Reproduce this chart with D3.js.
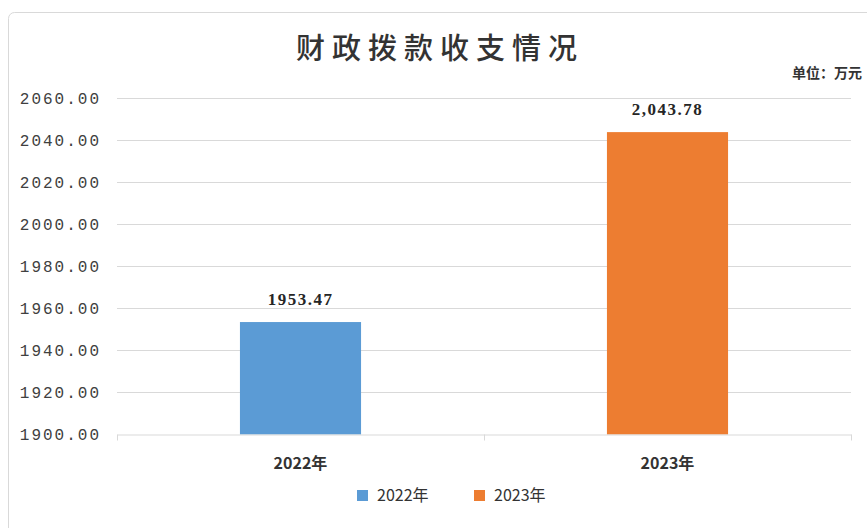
<!DOCTYPE html>
<html><head><meta charset="utf-8">
<script src="https://cdn.jsdelivr.net/npm/d3@7"></script>
<style>body{margin:0;background:#fff}svg{display:block}</style>
</head><body>
<script>
const categories = ["2022年", "2023年"];
const values = [1953.47, 2043.78];
const valueLabels = ["1953.47", "2,043.78"];
const colors = ["#5B9BD5", "#ED7D31"];
const yTicks = [1900, 1920, 1940, 1960, 1980, 2000, 2020, 2040, 2060];
const title = "财政拨款收支情况";
const unit = "单位：万元";

const W = 867, H = 528;
const svg = d3.select("body").append("svg").attr("width", W).attr("height", H);

svg.append("rect").attr("x", 8.5).attr("y", 12.5).attr("width", 870).attr("height", 530)
  .attr("rx", 6).attr("fill", "#fff").attr("stroke", "#d9d9d9");

const m = {left: 117, right: 851, top: 98, bottom: 434.5};
const x = d3.scaleBand().domain(categories).range([m.left, m.right]).paddingInner(0).paddingOuter(0);
const y = d3.scaleLinear().domain([1900, 2060]).range([m.bottom, m.top]);

// grid
svg.append("g").selectAll("line").data(yTicks.slice(1)).join("line")
  .attr("x1", m.left).attr("x2", m.right)
  .attr("y1", d => Math.round(y(d)) + 0.5).attr("y2", d => Math.round(y(d)) + 0.5)
  .attr("stroke", "#d9d9d9").attr("stroke-width", 1);

// y labels
svg.append("g").selectAll("text").data(yTicks).join("text")
  .attr("x", 101).attr("y", d => y(d) + 5.5)
  .attr("text-anchor", "end")
  .attr("font-family", "Liberation Mono, DejaVu Sans Mono, monospace")
  .attr("font-size", 16).attr("letter-spacing", 2)
  .attr("fill", "#404040")
  .text(d => d.toFixed(2));

// bars
const bw = x.bandwidth() * 0.33;
svg.append("g").selectAll("rect").data(values).join("rect")
  .attr("x", (d, i) => x(categories[i]) + x.bandwidth() / 2 - bw / 2)
  .attr("y", d => y(d))
  .attr("width", bw)
  .attr("height", d => y(1900) - y(d))
  .attr("fill", (d, i) => colors[i]);

// x axis line
const xAxis = d3.axisBottom(x).tickSize(0).tickFormat("");
svg.append("g").attr("transform", `translate(0,${m.bottom})`).call(xAxis)
  .call(g => g.select(".domain").attr("stroke", "#d9d9d9"));
// category boundary ticks
svg.append("g").selectAll("line").data([m.left, x(categories[1]), m.right]).join("line")
  .attr("x1", d => Math.round(d) + 0.5).attr("x2", d => Math.round(d) + 0.5)
  .attr("y1", m.bottom).attr("y2", m.bottom + 6).attr("stroke", "#d9d9d9");

// category labels
svg.append("g").selectAll("text").data(categories).join("text")
  .attr("x", d => x(d) + x.bandwidth() / 2).attr("y", 469)
  .attr("text-anchor", "middle")
  .attr("font-family", "Noto Sans CJK SC, sans-serif").attr("font-weight", "bold")
  .attr("font-size", 16).attr("fill", "#333")
  .text(d => d);

// data labels
svg.append("g").selectAll("text").data(values).join("text")
  .attr("x", (d, i) => x(categories[i]) + x.bandwidth() / 2)
  .attr("y", d => y(d) - 17)
  .attr("text-anchor", "middle")
  .attr("font-family", "Liberation Serif, DejaVu Serif, serif").attr("font-weight", "bold")
  .attr("font-size", 17).attr("letter-spacing", 1.5).attr("fill", "#262626")
  .text((d, i) => valueLabels[i]);

// title
svg.append("text").attr("x", 440).attr("y", 59).attr("text-anchor", "middle")
  .attr("font-family", "Noto Sans CJK SC, sans-serif").attr("font-size", 29).attr("font-weight", 500)
  .attr("letter-spacing", 7).attr("fill", "#333").text(title);

svg.append("text").attr("x", 862).attr("y", 78).attr("text-anchor", "end")
  .attr("font-family", "Noto Sans CJK SC, sans-serif").attr("font-size", 14).attr("font-weight", "bold")
  .attr("fill", "#333").text(unit);

// legend
const legend = svg.append("g").selectAll("g").data(categories).join("g")
  .attr("transform", (d, i) => `translate(${357 + i * 117},490)`);
legend.append("rect").attr("width", 11).attr("height", 11).attr("fill", (d, i) => colors[i]);
legend.append("text").attr("x", 20).attr("y", 11)
  .attr("font-family", "Noto Sans CJK SC, sans-serif").attr("font-size", 16).attr("fill", "#333")
  .text(d => d);
</script>
</body></html>
